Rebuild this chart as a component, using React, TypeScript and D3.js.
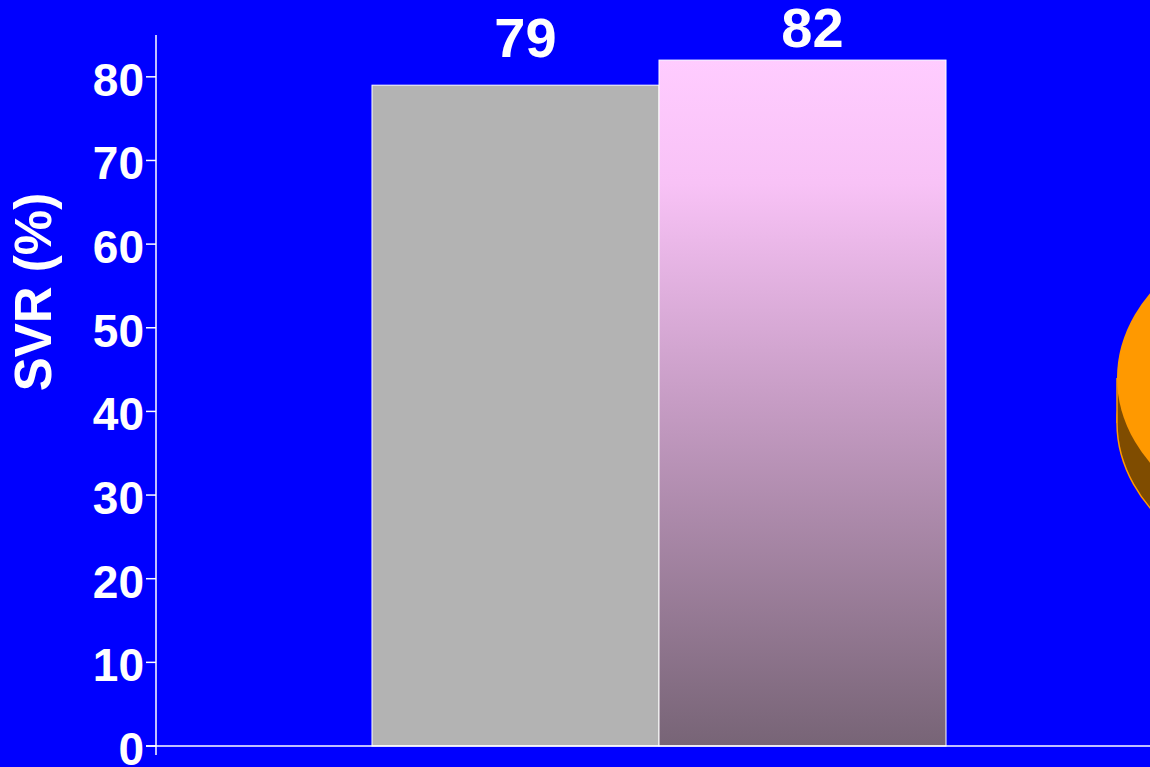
import React from "react";
import * as d3 from "d3";

const categories = ["Group A", "Group B"];
const values = [79, 82];
const yTicks = [0, 10, 20, 30, 40, 50, 60, 70, 80];
const yLabel = "SVR (%)";

const W = 1150;
const H = 767;

export default function App() {
  const y = d3.scaleLinear().domain([0, 85]).range([746, 35]);
  const x = d3.scaleBand().domain(categories).range([372, 946]).paddingInner(0).paddingOuter(0);
  const font = "'Liberation Sans', Arial, Helvetica, sans-serif";
  const x0 = 156;

  // decorative 3D disc at the right edge (partially off-canvas)
  const cx = 1352, cyTop = 378, rx = 235, ry = 166, depth = 45;

  return (
    <svg
      width={W}
      height={H}
      style={{ position: "absolute", left: 0, top: 0, display: "block" }}
      fontFamily={font}
    >
      <defs>
        <linearGradient id="pinkGrad" x1="0" y1="0" x2="0" y2="1">
          <stop offset="0%" stopColor="#FFCCFF" />
          <stop offset="18%" stopColor="#F8C2F6" />
          <stop offset="50%" stopColor="#C69CC4" />
          <stop offset="100%" stopColor="#776476" />
        </linearGradient>
      </defs>
      <rect x={0} y={0} width={W} height={H} fill="#0000FF" />

      {/* disc */}
      <ellipse cx={cx} cy={cyTop + depth} rx={rx} ry={ry} fill="#7F4C00" stroke="#FF9900" strokeWidth={1.5} />
      <rect x={cx - rx} y={cyTop} width={rx * 2} height={depth} fill="#7F4C00" />
      <line x1={cx - rx} x2={cx - rx} y1={cyTop} y2={cyTop + depth} stroke="#FF9900" strokeWidth={1.5} />
      <ellipse cx={cx} cy={cyTop} rx={rx} ry={ry} fill="#FF9900" />

      {/* bars */}
      {categories.map((c, i) => (
        <rect
          key={c}
          x={x(c)}
          y={y(values[i])}
          width={x.bandwidth()}
          height={y(0) - y(values[i])}
          fill={i === 0 ? "#B3B3B3" : "url(#pinkGrad)"}
          stroke="#FFFFFF"
          strokeWidth={1}
        />
      ))}

      {/* bar value labels */}
      {categories.map((c, i) => (
        <text
          key={c + "-lbl"}
          x={(x(c) as number) + x.bandwidth() / 2 + 10}
          y={Math.max(y(values[i]) - 28, 47)}
          textAnchor="middle"
          fontSize={56}
          fontWeight="bold"
          fill="#FFFFFF"
        >
          {values[i]}
        </text>
      ))}

      {/* axes */}
      <line x1={x0} x2={x0} y1={35} y2={755} stroke="#FFFFFF" strokeWidth={1.5} />
      <line x1={146} x2={W} y1={y(0)} y2={y(0)} stroke="#FFFFFF" strokeWidth={1.5} />
      {yTicks.map((t) => (
        <g key={t}>
          <line x1={146} x2={x0} y1={y(t)} y2={y(t)} stroke="#FFFFFF" strokeWidth={1.5} />
          <text
            x={144}
            y={y(t) + 19}
            textAnchor="end"
            fontSize={46}
            fontWeight="bold"
            fill="#FFFFFF"
          >
            {t}
          </text>
        </g>
      ))}

      <text
        transform="translate(51, 292) rotate(-90)"
        textAnchor="middle"
        fontSize={51}
        fontWeight="bold"
        fill="#FFFFFF"
      >
        {yLabel}
      </text>
    </svg>
  );
}
